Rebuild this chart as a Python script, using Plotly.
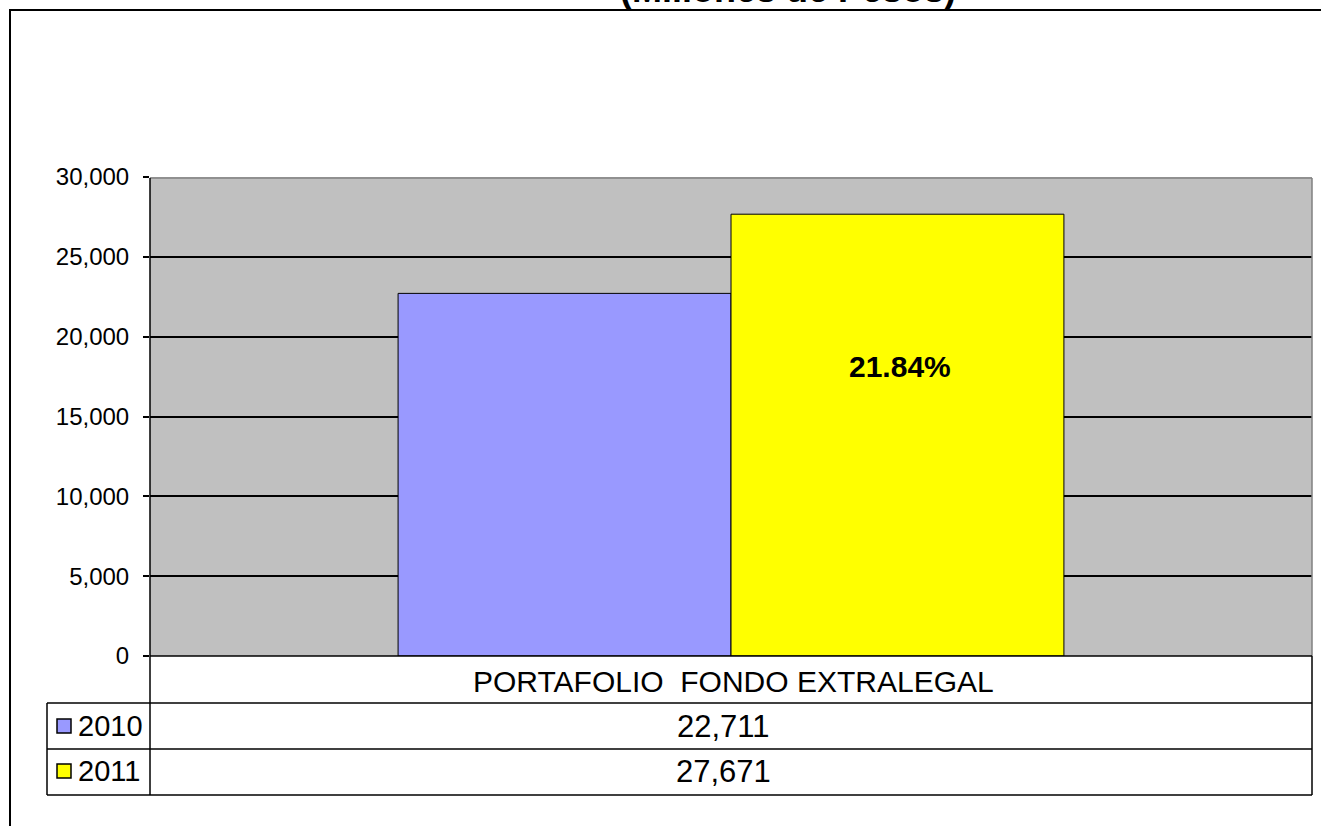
import plotly.graph_objects as go

# ---- data ----
category = "PORTAFOLIO  FONDO EXTRALEGAL"
years = ["2010", "2011"]
values = [22711, 27671]
bar_colors = ["#9999FF", "#FFFF00"]
growth_label = "21.84%"
title_text = "(Millones de Pesos)"
y_ticks = [0, 5000, 10000, 15000, 20000, 25000, 30000]

W, H = 1321, 826
L, R, T, B = 150, 9, 177, 170
PW, PH = W - L - R, H - T - B
FONT = "Liberation Sans, Arial, sans-serif"


def px(x):
    return (x - L) / PW


def py(y):
    return (H - B - y) / PH


fig = go.Figure()
for yr, v, c in zip(years, values, bar_colors):
    fig.add_trace(go.Bar(
        x=[category], y=[v], name=yr,
        marker=dict(color=c, line=dict(color="black", width=1)),
        showlegend=False,
    ))

shapes = []
line = dict(color="black", width=1.5)
# outer chart border
shapes.append(dict(type="rect", xref="paper", yref="paper",
                   x0=px(10), x1=px(1340), y0=py(850), y1=py(10),
                   line=dict(color="black", width=2), layer="below"))
# plot area gray border (top, right)
shapes.append(dict(type="line", xref="paper", yref="paper",
                   x0=px(150), x1=px(1312), y0=py(178), y1=py(178),
                   line=dict(color="#808080", width=1.5)))
shapes.append(dict(type="line", xref="paper", yref="paper",
                   x0=px(1312), x1=px(1312), y0=py(178), y1=py(656),
                   line=dict(color="#808080", width=1.5)))
# data table lines
for yy, x0 in [(656, 150), (703, 47), (749, 47), (795, 47)]:
    shapes.append(dict(type="line", xref="paper", yref="paper",
                       x0=px(x0), x1=px(1312), y0=py(yy), y1=py(yy), line=line))
for xx, y0, y1 in [(47, 703, 795), (150, 178, 795), (1312, 656, 795)]:
    shapes.append(dict(type="line", xref="paper", yref="paper",
                       x0=px(xx), x1=px(xx), y0=py(y0), y1=py(y1), line=line))
# legend keys
row_centers = [726, 771]
for c, yc in zip(bar_colors, row_centers):
    shapes.append(dict(type="rect", xref="paper", yref="paper",
                       x0=px(57), x1=px(71), y0=py(yc - 7), y1=py(yc + 7),
                       fillcolor=c, line=dict(color="black", width=1.5)))

annotations = []
annotations.append(dict(text="<b>" + title_text + "</b>", xref="paper", yref="paper",
                        x=px(788), y=py(12), xanchor="center", yanchor="bottom",
                        showarrow=False, font=dict(family=FONT, size=36, color="black")))
annotations.append(dict(text=category, xref="paper", yref="paper",
                        x=px(733), y=py(681), xanchor="center", yanchor="middle",
                        showarrow=False, font=dict(family=FONT, size=30, color="black")))
for yr, v, yc in zip(years, values, row_centers):
    annotations.append(dict(text=f"{v:,}", xref="paper", yref="paper",
                            x=px(723), y=py(yc), xanchor="center", yanchor="middle",
                            showarrow=False, font=dict(family=FONT, size=31, color="black")))
    annotations.append(dict(text=yr, xref="paper", yref="paper",
                            x=px(76), y=py(yc), xanchor="left", yanchor="middle",
                            showarrow=False, font=dict(family=FONT, size=29, color="black")))
annotations.append(dict(text="<b>" + growth_label + "</b>", xref="paper", yref="paper",
                        x=px(900), y=py(366), xanchor="center", yanchor="middle",
                        showarrow=False, font=dict(family=FONT, size=30, color="black")))

fig.update_layout(
    width=W, height=H, autosize=False,
    margin=dict(l=L, r=R, t=T, b=B, pad=0),
    paper_bgcolor="white", plot_bgcolor="#C0C0C0",
    barmode="group", bargap=0.427, bargroupgap=0,
    font=dict(family=FONT, color="black"),
    shapes=shapes, annotations=annotations,
    showlegend=False,
)
fig.update_xaxes(showticklabels=False, showgrid=False, zeroline=False, showline=False,
                 ticks="")
fig.update_yaxes(range=[0, 30000], tickvals=y_ticks, tickformat=",d",
                 showgrid=True, gridcolor="black", gridwidth=1.5,
                 zeroline=False, showline=False,
                 ticks="outside", ticklen=6, tickcolor="black", tickwidth=1.5,
                 ticklabelstandoff=9,
                 tickfont=dict(family=FONT, size=24, color="black"))

fig.write_html("out.html", config={"displayModeBar": False},
               post_script="document.body.style.margin='0';")
